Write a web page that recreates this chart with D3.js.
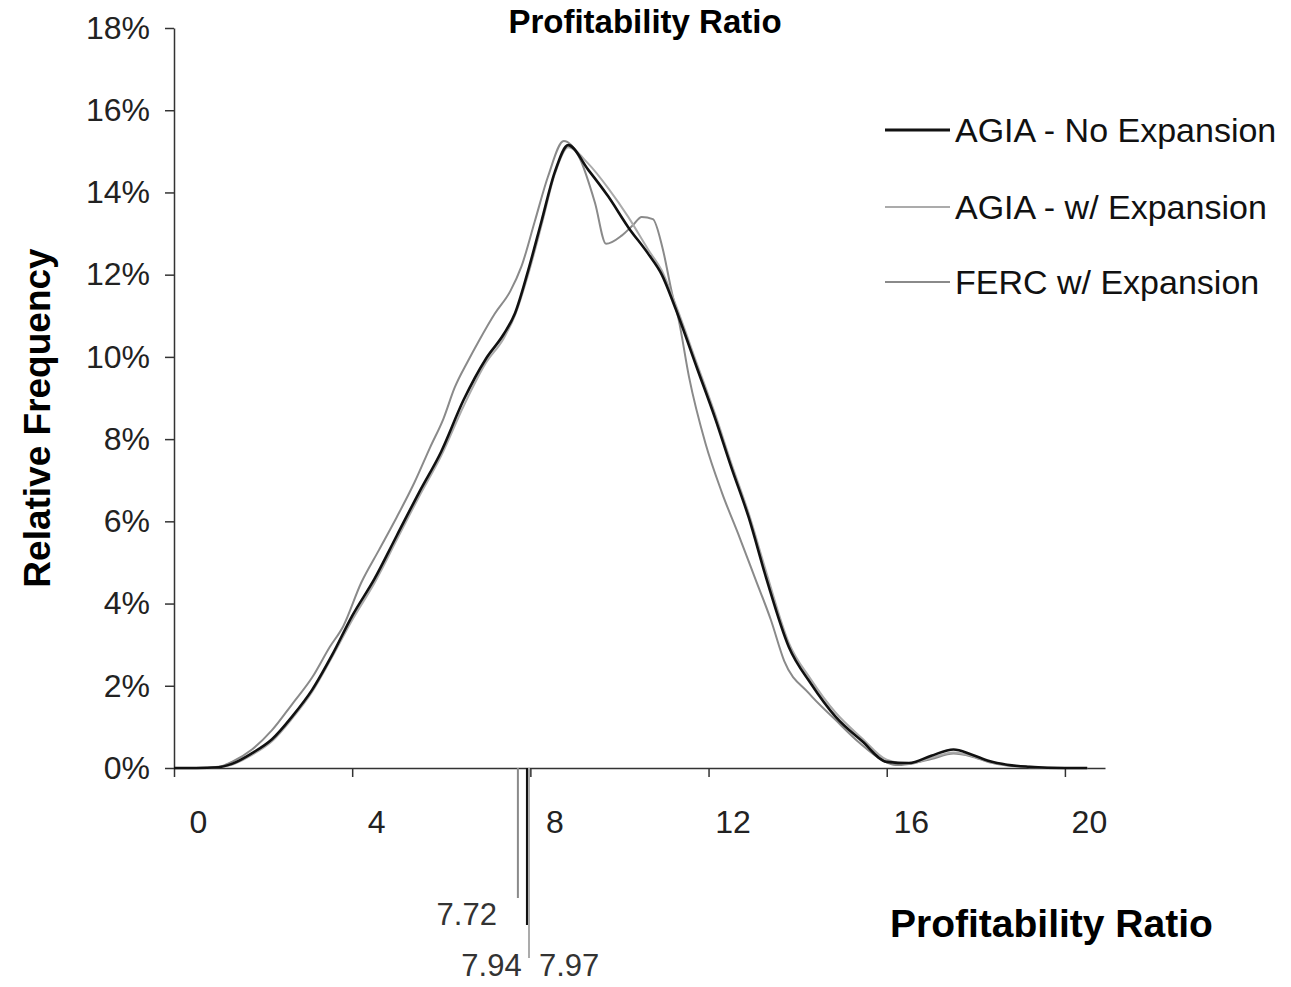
<!DOCTYPE html>
<html>
<head>
<meta charset="utf-8">
<script src="https://cdn.jsdelivr.net/npm/d3@7"></script>
<style>
  html, body { margin: 0; padding: 0; background: #fff; }
  svg { display: block; font-family: "Liberation Sans", Arial, sans-serif; }
</style>
</head>
<body>
<svg id="chart" width="1291" height="987"></svg>
<script>
// ---- data ----
const xTicks = [0, 4, 8, 12, 16, 20];
const yTicks = [0, 2, 4, 6, 8, 10, 12, 14, 16, 18];
const seriesNames = ["AGIA - No Expansion", "AGIA - w/ Expansion", "FERC w/ Expansion"];

// [profitability ratio, relative frequency %]
const agiaNoExp = [[0,0],[0.5,0],[1.0,0.02],[1.3,0.1],[1.75,0.36],[2.2,0.7],[2.65,1.25],[3.1,1.9],[3.55,2.75],[4.0,3.7],[4.5,4.6],[5.0,5.65],[5.5,6.7],[6.0,7.7],[6.5,8.95],[7.0,9.95],[7.4,10.55],[7.65,11.05],[7.95,12.1],[8.25,13.3],[8.55,14.5],[8.85,15.15],[9.3,14.55],[9.75,13.9],[10.2,13.15],[10.65,12.5],[10.95,12.0],[11.25,11.2],[11.75,9.7],[12.15,8.5],[12.5,7.35],[12.9,6.1],[13.3,4.6],[13.8,2.95],[14.3,2.05],[14.85,1.25],[15.45,0.65],[16.0,0.15],[16.5,0.12],[17.0,0.3],[17.5,0.45],[17.9,0.33],[18.3,0.17],[18.7,0.08],[19.2,0.03],[20,0],[20.5,0]];

const agiaWithExp = [[0,0],[0.5,0],[1.0,0.02],[1.3,0.08],[1.75,0.32],[2.2,0.65],[2.65,1.2],[3.1,1.85],[3.55,2.7],[4.0,3.6],[4.5,4.5],[5.0,5.55],[5.5,6.6],[6.0,7.6],[6.5,8.8],[7.0,9.85],[7.4,10.45],[7.65,11.0],[7.95,12.0],[8.25,13.2],[8.55,14.45],[8.85,15.1],[9.3,14.7],[9.75,14.1],[10.2,13.4],[10.65,12.6],[10.95,12.1],[11.25,11.3],[11.75,9.8],[12.15,8.6],[12.5,7.45],[12.9,6.2],[13.3,4.75],[13.8,3.05],[14.3,2.15],[14.85,1.35],[15.45,0.72],[16.0,0.2],[16.5,0.1],[17.0,0.25],[17.5,0.38],[17.9,0.3],[18.3,0.15],[18.7,0.07],[19.2,0.03],[20,0],[20.5,0]];

const fercWithExp = [[0,0],[0.5,0],[1.0,0.03],[1.3,0.15],[1.75,0.45],[2.2,0.92],[2.65,1.55],[3.1,2.2],[3.5,2.95],[3.8,3.45],[4.2,4.5],[4.6,5.3],[5.0,6.1],[5.4,6.95],[5.75,7.8],[6.05,8.5],[6.3,9.25],[6.6,9.9],[6.85,10.4],[7.2,11.05],[7.55,11.6],[7.8,12.2],[8.1,13.3],[8.4,14.4],[8.75,15.25],[9.1,14.85],[9.45,13.75],[9.7,12.75],[10.05,12.95],[10.3,13.2],[10.5,13.4],[10.75,13.35],[10.96,12.68],[11.18,11.55],[11.33,10.9],[11.56,9.52],[11.93,7.9],[12.3,6.7],[12.7,5.6],[13.05,4.6],[13.4,3.6],[13.7,2.6],[14.25,1.82],[14.85,1.17],[15.4,0.6],[15.9,0.19],[16.2,0.07],[16.5,0.1],[17.0,0.22],[17.5,0.35],[17.9,0.28],[18.3,0.14],[18.7,0.06],[19.2,0.02],[20,0],[20.5,0]];

const meanValues = [7.72, 7.94, 7.97];   // FERC, AGIA no exp, AGIA w/ exp
const meanLabels = ["7.72", "7.94", "7.97"];

// ---- styles ----
const colors = ["#111111", "#ababab", "#8a8a8a"];
const widths = [2.6, 2, 2];

const svg = d3.select("#chart");
const x = d3.scaleLinear().domain([0, 20.9]).range([174, 1105]);
const y = d3.scaleLinear().domain([0, 18]).range([768, 28]);

// title
svg.append("text")
  .attr("x", 645).attr("y", 33)
  .attr("text-anchor", "middle")
  .attr("font-size", 33).attr("font-weight", "bold")
  .text("Profitability Ratio");

// y axis
const yAxis = svg.append("g")
  .attr("transform", `translate(${x(0)},0)`)
  .call(d3.axisLeft(y).tickValues(yTicks).tickFormat(d => d + "%").tickSize(9).tickPadding(15).tickSizeOuter(0));
yAxis.selectAll("text").attr("font-size", 32).attr("fill", "#222").attr("font-family", "Liberation Sans, Arial, sans-serif");
yAxis.selectAll("line, path").attr("stroke", "#333").attr("stroke-width", 1.5);

// x axis
const xAxis = svg.append("g")
  .attr("transform", `translate(0,${y(0)})`)
  .call(d3.axisBottom(x).tickValues(xTicks).tickFormat(d3.format("d")).tickSize(9).tickPadding(33).tickSizeOuter(0));
xAxis.selectAll("text").attr("font-size", 32).attr("fill", "#222").attr("dx", 24).attr("font-family", "Liberation Sans, Arial, sans-serif");
xAxis.selectAll("line, path").attr("stroke", "#333").attr("stroke-width", 1.5);

// y axis title
svg.append("text")
  .attr("transform", "translate(50,418) rotate(-90)")
  .attr("text-anchor", "middle")
  .attr("font-size", 37).attr("font-weight", "bold")
  .text("Relative Frequency");

// x axis title
svg.append("text")
  .attr("x", 890).attr("y", 937)
  .attr("font-size", 39).attr("font-weight", "bold")
  .text("Profitability Ratio");

// series
const line = d3.line().x(d => x(d[0])).y(d => y(d[1])).curve(d3.curveMonotoneX);
const seriesData = [agiaNoExp, agiaWithExp, fercWithExp];
const drawOrder = [2, 1, 0];
drawOrder.forEach(i => {
  svg.append("path")
    .datum(seriesData[i])
    .attr("fill", "none")
    .attr("stroke", colors[i])
    .attr("stroke-width", widths[i])
    .attr("stroke-linejoin", "round")
    .attr("d", line);
});

// mean markers below the axis
const meanMarks = [
  { v: meanValues[0], label: meanLabels[0], color: colors[2], w: 2, len: 130, anchor: "end", dx: -21, ty: 925 },
  { v: meanValues[1], label: meanLabels[1], color: colors[0], w: 3.5, len: 157, anchor: "end", dx: -6, ty: 976 },
  { v: meanValues[2], label: meanLabels[2], color: colors[1], w: 2, len: 190, anchor: "start", dx: 10, ty: 976 }
];
meanMarks.forEach(m => {
  svg.append("line")
    .attr("x1", x(m.v)).attr("x2", x(m.v))
    .attr("y1", y(0)).attr("y2", y(0) + m.len)
    .attr("stroke", m.color).attr("stroke-width", m.w);
  svg.append("text")
    .attr("x", x(m.v) + m.dx).attr("y", m.ty)
    .attr("text-anchor", m.anchor)
    .attr("font-size", 31).attr("fill", "#333")
    .text(m.label);
});

// legend
const legendY = [130, 207, 282];
seriesNames.forEach((name, i) => {
  svg.append("line")
    .attr("x1", 885).attr("x2", 950)
    .attr("y1", legendY[i]).attr("y2", legendY[i])
    .attr("stroke", colors[i]).attr("stroke-width", i === 0 ? 3 : 2);
  svg.append("text")
    .attr("x", 955).attr("y", legendY[i])
    .attr("dy", "0.35em")
    .attr("font-size", 34).attr("fill", "#111")
    .text(name);
});
</script>
</body>
</html>
